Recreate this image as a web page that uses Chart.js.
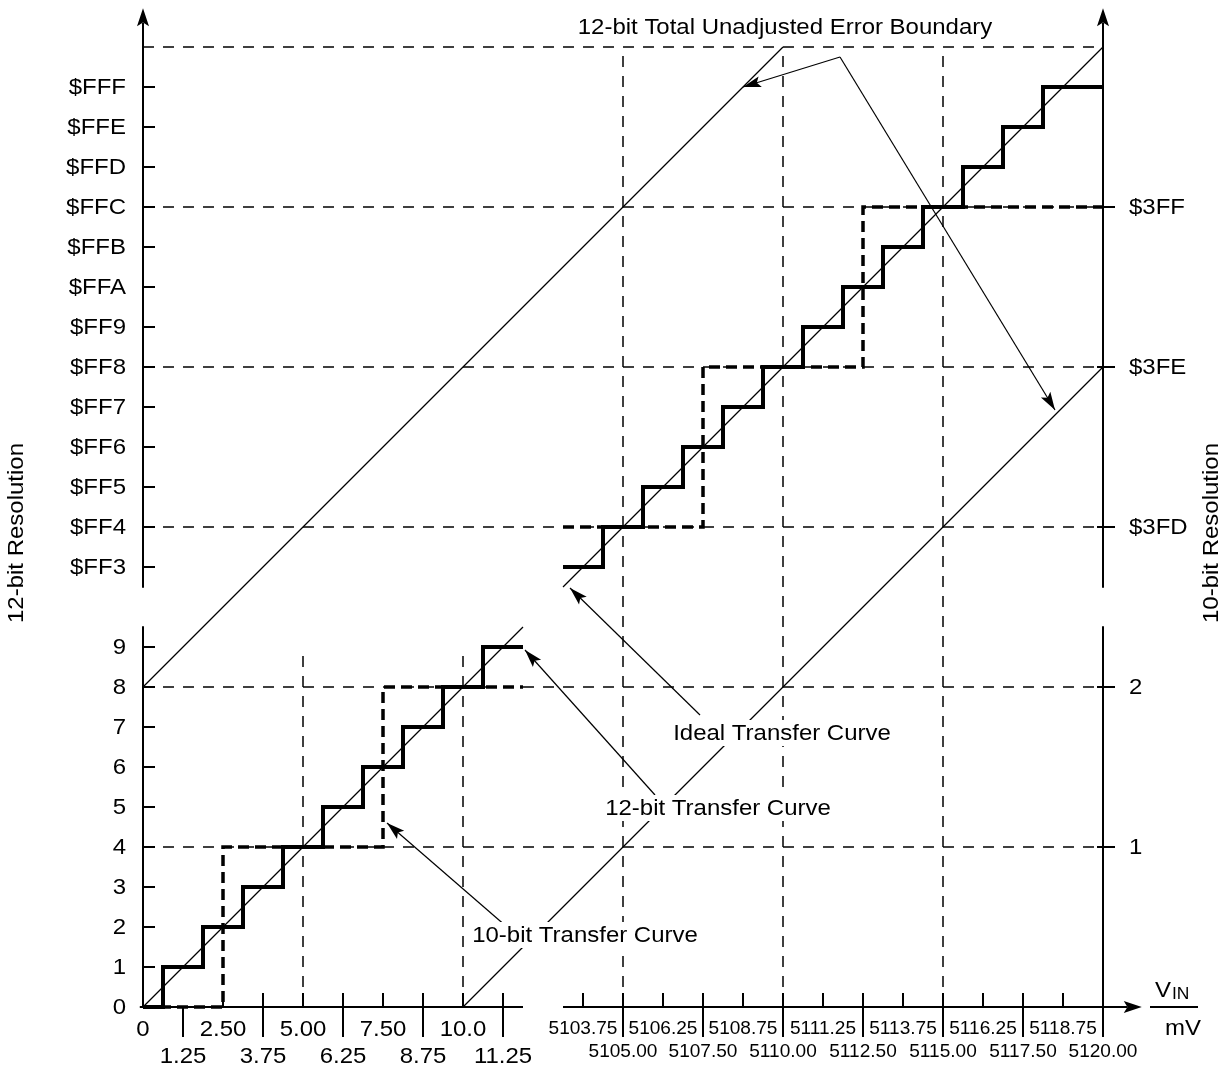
<!DOCTYPE html>
<html><head><meta charset="utf-8">
<script src="https://cdn.jsdelivr.net/npm/chart.js@4.4.1/dist/chart.umd.min.js"></script>
<style>html,body{margin:0;padding:0;background:#fff}canvas{display:block}</style>
</head><body>
<canvas id="c" width="1228" height="1069"></canvas>
<script>
// ---------------- data (mV on x, ADC codes on y) ----------------
const xTicksLeftRow1 = [0, 2.5, 5, 7.5, 10];
const xLabelsLeftRow1 = ['0', '2.50', '5.00', '7.50', '10.0'];
const xTicksLeftRow2 = [1.25, 3.75, 6.25, 8.75, 11.25];
const xLabelsLeftRow2 = ['1.25', '3.75', '6.25', '8.75', '11.25'];
const xTicksRightRow1 = [5103.75, 5106.25, 5108.75, 5111.25, 5113.75, 5116.25, 5118.75];
const xLabelsRightRow1 = ['5103.75', '5106.25', '5108.75', '5111.25', '5113.75', '5116.25', '5118.75'];
const xTicksRightRow2 = [5105, 5107.5, 5110, 5112.5, 5115, 5117.5, 5120];
const xLabelsRightRow2 = ['5105.00', '5107.50', '5110.00', '5112.50', '5115.00', '5117.50', '5120.00'];

const yTicks12 = [0, 1, 2, 3, 4, 5, 6, 7, 8, 9,
  0xFF3, 0xFF4, 0xFF5, 0xFF6, 0xFF7, 0xFF8, 0xFF9, 0xFFA, 0xFFB, 0xFFC, 0xFFD, 0xFFE, 0xFFF];
const yLabels12 = ['0', '1', '2', '3', '4', '5', '6', '7', '8', '9',
  '$FF3', '$FF4', '$FF5', '$FF6', '$FF7', '$FF8', '$FF9', '$FFA', '$FFB', '$FFC', '$FFD', '$FFE', '$FFF'];
const yTicks10 = [1, 2, 0x3FD, 0x3FE, 0x3FF];
const yLabels10 = ['1', '2', '$3FD', '$3FE', '$3FF'];

// 12-bit transfer curve (code transitions)
const mv12Left = [0, 0.625, 1.875, 3.125, 4.375, 5.625, 6.875, 8.125, 9.375, 10.625, 11.875];
const code12Left = [0, 1, 2, 3, 4, 5, 6, 7, 8, 9, 9];
const mv12Right = [5103.125, 5104.375, 5105.625, 5106.875, 5108.125, 5109.375, 5110.625,
  5111.875, 5113.125, 5114.375, 5115.625, 5116.875, 5118.125, 5120];
const code12Right = [0xFF3, 0xFF4, 0xFF5, 0xFF6, 0xFF7, 0xFF8, 0xFF9, 0xFFA, 0xFFB, 0xFFC,
  0xFFD, 0xFFE, 0xFFF, 0xFFF];
// 10-bit transfer curve
const mv10Left = [0, 2.5, 7.5, 11.875];
const code10Left = [0, 1, 2, 2];
const mv10Right = [5103.125, 5107.5, 5112.5, 5120];
const code10Right = [0x3FD, 0x3FE, 0x3FF, 0x3FF];
// ideal transfer curve
const mvIdealLeft = [0, 11.875];
const codeIdealLeft = [0, 9.5];
const mvIdealRight = [5103.125, 5120];
const codeIdealRight = [4082.5, 4096];
// 12-bit total unadjusted error boundary
const mvTueUpper = [0, 5110];
const codeTueUpper = [8, 4096];
const mvTueLower = [10, 5120];
const codeTueLower = [0, 0xFF8];
// dashed reference lines
const gridCodes12 = [4, 8, 0xFF4, 0xFF8, 0xFFC, 0x1000];
const gridMvLeft = [5, 10];
const gridMvRight = [5105, 5110, 5115];

// ---------------- broken-axis mapping ----------------
function xPos(mv) { return mv < 1000 ? mv / 1.25 : (mv - 5090) / 1.25; }
function yPos(code) { return code < 1000 ? code : code - 4072; }
function pts(mvs, codes, mult) {
  mult = mult || 1;
  return mvs.map((m, i) => ({ x: xPos(m), y: yPos(codes[i] * mult) }));
}

const FONT = '"Liberation Sans", Arial, Helvetica, sans-serif';
const STRETCH = 1.09;

function line(ctx, x1, y1, x2, y2) { ctx.beginPath(); ctx.moveTo(x1, y1); ctx.lineTo(x2, y2); ctx.stroke(); }
function arrowHead(ctx, tx, ty, fx, fy, len, half) {
  const a = Math.atan2(ty - fy, tx - fx);
  ctx.save();
  ctx.translate(tx, ty); ctx.rotate(a);
  ctx.beginPath();
  ctx.moveTo(0, 0); ctx.lineTo(-len, -half); ctx.lineTo(-len * 0.8, 0); ctx.lineTo(-len, half);
  ctx.closePath(); ctx.fill();
  ctx.restore();
}
// text with slight horizontal stretch (as in the reference typesetting)
function text(ctx, s, x, y) {
  ctx.save(); ctx.translate(x, y); ctx.scale(STRETCH, 1); ctx.fillText(s, 0, 0); ctx.restore();
}

const drawPlugin = {
  id: 'diagram',
  beforeDatasetsDraw(chart) {
    const ctx = chart.ctx, sx = chart.scales.x, sy = chart.scales.y;
    const X = u => sx.getPixelForValue(u), Y = v => sy.getPixelForValue(v);
    ctx.save();
    ctx.strokeStyle = '#000'; ctx.fillStyle = '#000';
    // dashed grid
    ctx.lineWidth = 1.5; ctx.setLineDash([11, 9]);
    gridCodes12.forEach(c => line(ctx, X(0), Y(yPos(c)), X(24), Y(yPos(c))));
    gridMvLeft.forEach(m => line(ctx, X(xPos(m)), Y(0), X(xPos(m)), Y(9)));
    gridMvRight.forEach(m => line(ctx, X(xPos(m)), Y(0), X(xPos(m)), Y(24)));
    ctx.setLineDash([]);
    // axes
    ctx.lineWidth = 2;
    line(ctx, X(0), Y(0), X(0), Y(9.52));
    line(ctx, X(0), Y(10.48), X(0), Y(24.6));
    arrowHead(ctx, X(0), Y(24.97), X(0), Y(20), 18, 6);
    line(ctx, X(24), Y(0) + 30, X(24), Y(9.52));
    line(ctx, X(24), Y(10.48), X(24), Y(24.6));
    arrowHead(ctx, X(24), Y(24.97), X(24), Y(20), 18, 6);
    line(ctx, X(-0.08), Y(0), X(9.5), Y(0));
    line(ctx, X(10.5), Y(0), X(24.6), Y(0));
    arrowHead(ctx, X(24.97), Y(0), X(20), Y(0), 18, 6);
    // y ticks
    yTicks12.forEach(c => line(ctx, X(0), Y(yPos(c)), X(0) + 12, Y(yPos(c))));
    yTicks10.forEach(c => line(ctx, X(24) - 6, Y(yPos(c * 4)), X(24) + 12, Y(yPos(c * 4))));
    // x ticks: short ticks above axis, long separators below
    xTicksLeftRow1.concat(xTicksLeftRow2).forEach(m => { if (m > 1.3) line(ctx, X(xPos(m)), Y(0) - 14, X(xPos(m)), Y(0)); });
    xTicksLeftRow2.forEach(m => line(ctx, X(xPos(m)), Y(0), X(xPos(m)), Y(0) + 30));
    xTicksRightRow1.concat(xTicksRightRow2).forEach(m => line(ctx, X(xPos(m)), Y(0) - 14, X(xPos(m)), Y(0)));
    xTicksRightRow2.forEach(m => line(ctx, X(xPos(m)), Y(0), X(xPos(m)), Y(0) + 30));
    ctx.restore();
  },
  afterDatasetsDraw(chart) {
    const ctx = chart.ctx, sx = chart.scales.x, sy = chart.scales.y;
    const X = u => sx.getPixelForValue(u), Y = v => sy.getPixelForValue(v);
    ctx.save();
    ctx.fillStyle = '#000'; ctx.strokeStyle = '#000';
    ctx.textBaseline = 'middle';
    // y tick labels
    ctx.font = '22px ' + FONT; ctx.textAlign = 'right';
    yTicks12.forEach((c, i) => text(ctx, yLabels12[i], X(0) - 17, Y(yPos(c)) + 1));
    ctx.textAlign = 'left';
    yTicks10.forEach((c, i) => text(ctx, yLabels10[i], X(24) + 26, Y(yPos(c * 4)) + 1));
    // x tick labels
    ctx.textAlign = 'center';
    xTicksLeftRow1.forEach((m, i) => text(ctx, xLabelsLeftRow1[i], X(xPos(m)), Y(0) + 23));
    xTicksLeftRow2.forEach((m, i) => text(ctx, xLabelsLeftRow2[i], X(xPos(m)), Y(0) + 50));
    ctx.font = '17.5px ' + FONT;
    xTicksRightRow1.forEach((m, i) => text(ctx, xLabelsRightRow1[i], X(xPos(m)), Y(0) + 22));
    xTicksRightRow2.forEach((m, i) => text(ctx, xLabelsRightRow2[i], X(xPos(m)), Y(0) + 45));
    // V_IN / mV
    ctx.font = '22px ' + FONT; ctx.textAlign = 'left'; ctx.textBaseline = 'alphabetic';
    text(ctx, 'V', 1155, 997);
    ctx.font = '16px ' + FONT;
    text(ctx, 'IN', 1172, 999);
    ctx.lineWidth = 2;
    line(ctx, 1150, Y(0), 1198, Y(0));
    ctx.font = '22px ' + FONT; ctx.textAlign = 'center'; ctx.textBaseline = 'middle';
    text(ctx, 'mV', 1183, 1029);
    // axis titles
    ctx.save(); ctx.translate(17, 533); ctx.rotate(-Math.PI / 2);
    ctx.scale(STRETCH, 1); ctx.fillText('12-bit Resolution', 0, 0); ctx.restore();
    ctx.save(); ctx.translate(1212, 533); ctx.rotate(-Math.PI / 2);
    ctx.scale(STRETCH, 1); ctx.fillText('10-bit Resolution', 0, 0); ctx.restore();

    // annotation arrows (axis units)
    ctx.lineWidth = 1.2;
    const arrows = [
      [13.925, 7.3, 10.675, 10.475],
      [12.8, 5.3, 9.55, 8.925],
      [9.1, 2.0, 6.1, 4.6]
    ];
    arrows.forEach(a => {
      line(ctx, X(a[0]), Y(a[1]), X(a[2]), Y(a[3]));
      arrowHead(ctx, X(a[2]), Y(a[3]), X(a[0]), Y(a[1]), 18, 5.5);
    });
    // error boundary pointer
    const apx = X(17.425), apy = Y(23.75);
    line(ctx, apx, apy, X(15), Y(23));
    arrowHead(ctx, X(15), Y(23), apx, apy, 18, 5.5);
    line(ctx, apx, apy, X(22.8), Y(14.925));
    arrowHead(ctx, X(22.8), Y(14.925), apx, apy, 18, 5.5);

    // annotation texts with white backing
    ctx.font = '22px ' + FONT;
    const notes = [
      ['12-bit Total Unadjusted Error Boundary', 16.05, 24.5],
      ['Ideal Transfer Curve', 15.975, 6.85],
      ['12-bit Transfer Curve', 14.375, 4.975],
      ['10-bit Transfer Curve', 11.05, 1.8]
    ];
    notes.forEach(n => {
      const w = ctx.measureText(n[0]).width * STRETCH;
      const cx = X(n[1]), cy = Y(n[2]);
      ctx.fillStyle = '#fff';
      ctx.fillRect(cx - w / 2 - 4, cy - 13, w + 8, 26);
      ctx.fillStyle = '#000';
      text(ctx, n[0], cx, cy + 1);
    });
    ctx.restore();
  }
};

const thin = { borderColor: '#000', borderWidth: 1.2, showLine: true, pointRadius: 0, fill: false, tension: 0, clip: false, order: 3 };
const step12 = { borderColor: '#000', borderWidth: 4, showLine: true, pointRadius: 0, fill: false, stepped: 'before', borderCapStyle: 'butt', borderJoinStyle: 'miter', clip: false, order: 1 };
const step10 = { borderColor: '#000', borderWidth: 3.5, showLine: true, pointRadius: 0, fill: false, stepped: 'before', borderDash: [11, 6], borderCapStyle: 'butt', borderJoinStyle: 'miter', clip: false, order: 2 };

new Chart(document.getElementById('c'), {
  type: 'scatter',
  data: {
    datasets: [
      Object.assign({ label: '12-bit Transfer Curve (low)', data: pts(mv12Left, code12Left) }, step12),
      Object.assign({ label: '12-bit Transfer Curve (high)', data: pts(mv12Right, code12Right) }, step12),
      Object.assign({ label: '10-bit Transfer Curve (low)', data: pts(mv10Left, code10Left, 4) }, step10),
      Object.assign({ label: '10-bit Transfer Curve (high)', data: pts(mv10Right, code10Right, 4) }, step10),
      Object.assign({ label: 'Ideal (low)', data: pts(mvIdealLeft, codeIdealLeft) }, thin),
      Object.assign({ label: 'Ideal (high)', data: pts(mvIdealRight, codeIdealRight) }, thin),
      Object.assign({ label: 'TUE upper', data: pts(mvTueUpper, codeTueUpper) }, thin),
      Object.assign({ label: 'TUE lower', data: pts(mvTueLower, codeTueLower) }, thin)
    ]
  },
  options: {
    responsive: false,
    animation: false,
    devicePixelRatio: 1,
    events: [],
    layout: { padding: { left: 143, right: 85, top: 7, bottom: 62 } },
    plugins: { legend: { display: false }, tooltip: { enabled: false } },
    scales: {
      x: { type: 'linear', min: 0, max: 25, display: false },
      y: { type: 'linear', min: 0, max: 25, display: false }
    }
  },
  plugins: [drawPlugin]
});
</script>
</body></html>
